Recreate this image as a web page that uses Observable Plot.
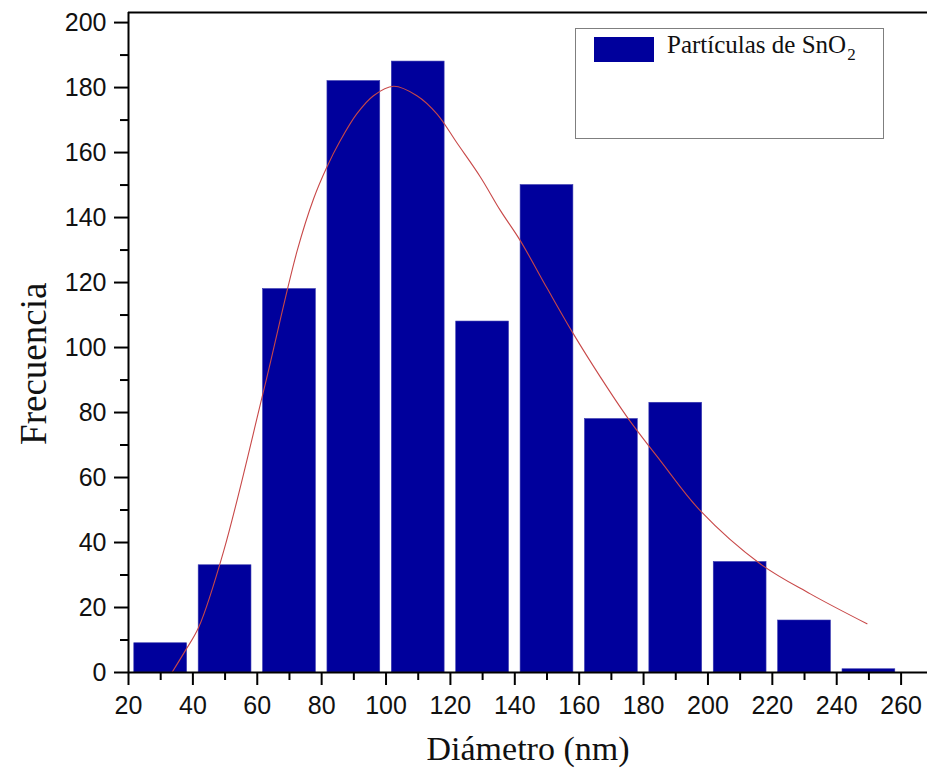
<!DOCTYPE html>
<html>
<head>
<meta charset="utf-8">
<script src="https://cdn.jsdelivr.net/npm/d3@7"></script>
<script src="https://cdn.jsdelivr.net/npm/@observablehq/plot@0.6"></script>
<style>
  html, body { margin: 0; padding: 0; background: #fff; }
  #wrap { position: relative; width: 927px; height: 778px; overflow: hidden; }
  #legend {
    position: absolute; left: 575px; top: 28px; width: 309px; height: 111px;
    border: 1px solid #7f7f7f; background: #fff; box-sizing: border-box;
  }
  #legend .sw { position: absolute; left: 18px; top: 8px; width: 60px; height: 25px; background: #00009c; }
  #legend .tx { position: absolute; left: 91px; top: 2px; font-family: "Liberation Serif", "Times New Roman", serif; font-size: 25px; color: #111; white-space: nowrap; }
  #legend .tx sub { font-size: 17px; vertical-align: -7px; margin-left: 1px; }
</style>
</head>
<body>
<div id="wrap"></div>
<script>
// Histogram bins (centres) and counts
const binCenters = [30, 50, 70, 90, 110, 130, 150, 170, 190, 210, 230, 250];
const counts = [9, 33, 118, 182, 188, 108, 150, 78, 83, 34, 16, 1];
const barHalfWidth = 8.2;

// Fitted curve
const curveX = [33.5, 37.7, 41.8, 49.6, 62, 72.4, 77.5, 81.6, 85.8, 90.9, 96.1, 102.3, 109.6, 115.8, 122, 129.3, 135.5, 141.7, 150, 158.2, 166.6, 174.9, 185.2, 197.6, 216.3, 231.8, 249.4];
const curveY = [0, 6.8, 13.9, 37.5, 86.8, 129.8, 145.8, 155.5, 163.7, 171.9, 177.5, 180.4, 177.5, 171.9, 163, 152.5, 142.2, 132.9, 118.3, 104.2, 90.9, 78.6, 65.2, 49.8, 33.4, 24.2, 15];

// Axis ticks
const xMajor = [20, 40, 60, 80, 100, 120, 140, 160, 180, 200, 220, 240, 260];
const xMinor = [30, 50, 70, 90, 110, 130, 150, 170, 190, 210, 230, 250];
const yMajor = [0, 20, 40, 60, 80, 100, 120, 140, 160, 180, 200];
const yMinor = [10, 30, 50, 70, 90, 110, 130, 150, 170, 190];
const xDomain = [20, 268.2];
const yDomain = [0, 203.1];

const bars = binCenters.map((c, i) => ({x: c, y: counts[i]}));
const curve = curveX.map((x, i) => ({x, y: curveY[i]}));

const tickFont = {fontSize: 25, fontFamily: "'Liberation Sans', Arial, sans-serif", fill: "#111"};
const serif = "'Liberation Serif', 'Times New Roman', serif";

const chart = Plot.plot({
  width: 927,
  height: 778,
  marginLeft: 128,
  marginRight: 0,
  marginTop: 12,
  marginBottom: 106,
  style: {background: "#fff", overflow: "visible"},
  x: {domain: xDomain},
  y: {domain: yDomain},
  marks: [
    Plot.rectY(bars, {x1: d => d.x - barHalfWidth, x2: d => d.x + barHalfWidth, y1: 0, y2: "y", fill: "#00009c", stroke: "#3a3ab0", strokeWidth: 0.6}),
    Plot.line(curve, {x: "x", y: "y", stroke: "#c84848", strokeWidth: 1.1, curve: "catmull-rom"}),
    Plot.ruleY([0], {stroke: "#000", strokeWidth: 2}),
    Plot.ruleY([yDomain[1]], {stroke: "#000", strokeWidth: 2}),
    Plot.ruleX([xDomain[0]], {stroke: "#000", strokeWidth: 2}),
    Plot.axisX({ticks: xMajor, tickSize: 13, tickPadding: 11, strokeWidth: 2, label: null, ...tickFont}),
    Plot.axisX({ticks: xMinor, tickSize: 8, tickFormat: () => "", strokeWidth: 2, label: null}),
    Plot.axisY({ticks: yMajor, tickSize: 14, tickPadding: 8, strokeWidth: 2, label: null, ...tickFont}),
    Plot.axisY({ticks: yMinor, tickSize: 8, tickFormat: () => "", strokeWidth: 2, label: null}),
    Plot.text(["Diámetro (nm)"], {x: d3.mean(xDomain), y: 0, dy: 87, fontSize: 34, fontFamily: serif, fill: "#111", lineAnchor: "bottom"}),
    Plot.text(["Frecuencia"], {y: 95, frameAnchor: "left", dx: -83, rotate: -90, textAnchor: "middle", fontSize: 37, fontFamily: serif, fill: "#111", lineAnchor: "bottom"})
  ]
});

const wrap = document.getElementById("wrap");
wrap.appendChild(chart);
const legend = document.createElement("div");
legend.id = "legend";
legend.innerHTML = '<div class="sw"></div><div class="tx">Partículas de SnO<sub>2</sub></div>';
wrap.appendChild(legend);
</script>
</body>
</html>
